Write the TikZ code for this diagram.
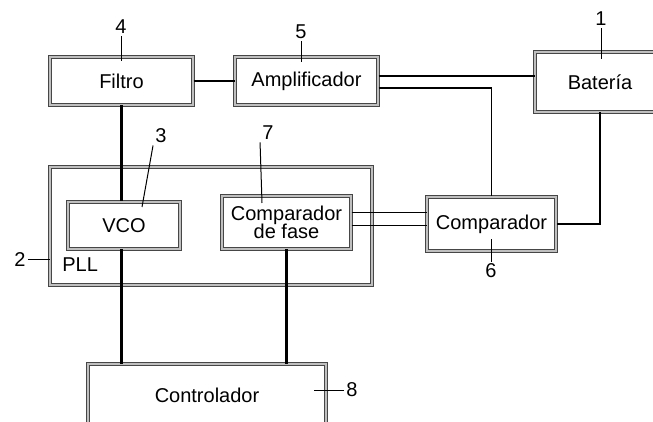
\documentclass[tikz,border=0pt]{standalone}
\usepackage{fontspec}
\setmainfont{Liberation Sans}
\usepackage{tikz}
\usetikzlibrary{positioning,calc}
\definecolor{frame}{RGB}{70,70,70}
\tikzset{
  blockbox/.style={
    draw=frame,double=black!25,double distance=0.6pt,line width=0.5pt,
    align=center,inner sep=2pt,font=\fontsize{10}{11}\selectfont
  },
  wire/.style={draw=black,line width=1.15pt},
  thinwire/.style={draw=black,line width=0.85pt},
  leader/.style={draw=black,line width=0.5pt},
  refnum/.style={font=\fontsize{10}{11}\selectfont,inner sep=1pt}
}

\begin{document}
\begin{tikzpicture}[x=0.5pt,y=-0.5pt]
  \useasboundingbox (0,0) rectangle (653,422);
  \clip (0,0) rectangle (653,422);

  \node[blockbox,minimum width=71.5pt,minimum height=24pt] (filtro) at (121.5,81) {Filtro};
  \node[blockbox,minimum width=71.5pt,minimum height=24pt] (amp) at (306.5,81) {Amplificador};
  \node[blockbox,minimum width=65pt,minimum height=30pt] (bateria) at (600,82) {Batería};
  \node[blockbox,minimum width=161pt,minimum height=59pt] (pll) at (211,226) {};
  \node[blockbox,minimum width=56pt,minimum height=23.5pt] (vco) at (124,225.5) {VCO};
  \node[blockbox,minimum width=64.5pt,minimum height=26.5pt] (compfase) at (286.5,222.5) {Comparador\\[-2pt]de fase};
  \node[blockbox,minimum width=64.5pt,minimum height=27pt] (comp) at (491.5,224) {Comparador};
  \node[blockbox,minimum width=119pt,minimum height=31pt] (ctrl) at (207,395) {Controlador};
  \node[refnum,anchor=west] (plltext) at (60,265) {PLL};

  % conexiones
  \draw[wire] (filtro.east) -- (amp.west);
  \draw[thinwire] ([yshift=2.5pt]amp.east) -- ([yshift=2.5pt]amp.east -| bateria.west);
  \draw[thinwire] ([yshift=-3.5pt]amp.east) -| (comp.north);
  \draw[wire] (bateria.south) |- (comp.east);
  \draw[thinwire] ([yshift=5pt]compfase.east) -- ([yshift=5pt]compfase.east -| comp.west);
  \draw[thinwire] ([yshift=-1.5pt]compfase.east) -- ([yshift=-1.5pt]compfase.east -| comp.west);
  \draw[wire] (filtro.south) -- (filtro.south |- vco.north);
  \draw[wire] (filtro.south |- vco.south) -- (filtro.south |- ctrl.north);
  \draw[wire] (compfase.south) -- (compfase.south |- ctrl.north);

  % referencias
  \node[refnum] (n1) at (601,19) {1};
  \node[refnum] (n2) at (20,260) {2};
  \node[refnum] (n3) at (161,136) {3};
  \node[refnum] (n4) at (121,27) {4};
  \node[refnum] (n5) at (301,32) {5};
  \node[refnum] (n6) at (491,271) {6};
  \node[refnum] (n7) at (268,133) {7};
  \node[refnum] (n8) at (352,390) {8};
  \coordinate (p3) at (142,207);
  \coordinate (p7) at (262,203);
  \draw[leader] (n1.south) -- ([yshift=-4pt]n1.south |- bateria.north);
  \draw[leader] (n4.south) -- ([yshift=-2.5pt]n4.south |- filtro.north);
  \draw[leader] (n5.south) -- ([yshift=-3pt]n5.south |- amp.north);
  \draw[leader] (n2.east) -- (n2.east -| pll.west);
  \draw[leader] (n3.south west) -- (p3);
  \draw[leader] (n7.south west) -- (p7);
  \draw[leader] (n6.north) -- ([yshift=6pt]n6.north |- comp.south);
  \draw[leader] (n8.west) -- ++(-30,0);
\end{tikzpicture}
\end{document}
